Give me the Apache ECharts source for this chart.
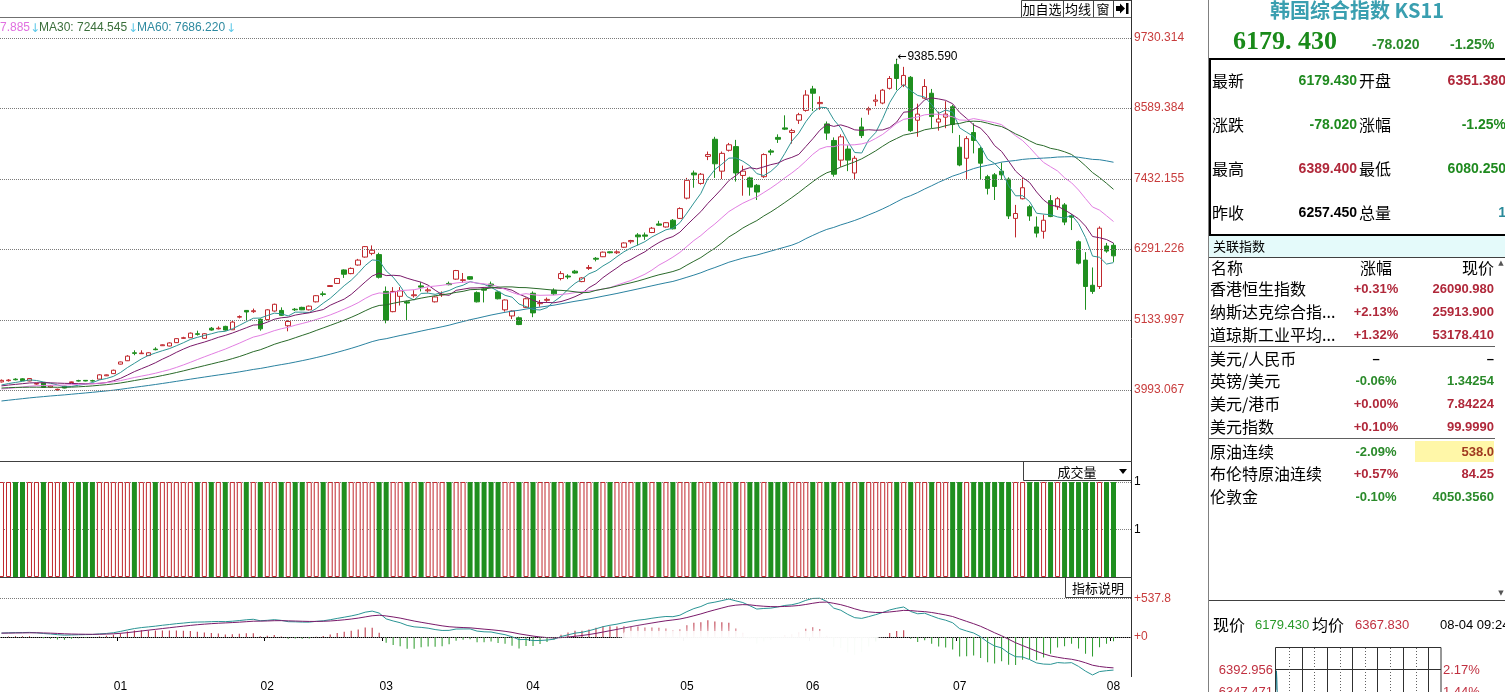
<!DOCTYPE html>
<html><head><meta charset="utf-8">
<script src="https://cdn.jsdelivr.net/npm/echarts@6/dist/echarts.min.js"></script>
<style>html,body{margin:0;padding:0;background:#fff;overflow:hidden}#c{width:1505px;height:692px}</style>
</head><body><div id="c"></div>
<script>
// ---------- DATA ----------
// closes before the first visible candle (only feed the moving averages / MACD)
const historyCloses = [
3380,3400,3420,3410,3440,3450,3430,3470,3490,3480,3510,3530,3520,3550,3570,
3590,3580,3610,3640,3660,3680,3700,3720,3750,3770,3800,3830,3860,3900,3940,
3990,4030,4080,4120,4100,4060,4020,4070,4050,4030,
3980,3940,3900,3920,3960,3950,3990,3970,3980,4010,
4020,4050,4030,4060,4065,4040,4070,4050,4065];
// visible candles: [open, close, low, high]
const candleData = [
[4125,4150,4115,4165],[4145,4155,4130,4170],[4170,4160,4150,4185],[4175,4145,4140,4185],[4140,4180,4135,4185],
[4090,4100,4080,4110],[4110,4035,4030,4120],[4040,4060,4030,4070],[3995,4005,3985,4015],[4055,4025,4020,4060],
[4115,4125,4110,4130],[4145,4140,4130,4160],[4150,4140,4135,4155],[4145,4140,4130,4160],[4170,4240,4165,4250],
[4225,4240,4220,4245],[4260,4315,4255,4325],[4415,4450,4410,4455],[4470,4545,4465,4560],[4600,4590,4560,4640],
[4585,4595,4580,4640],[4555,4600,4545,4610],[4660,4650,4640,4690],[4715,4730,4710,4735],[4710,4760,4705,4770],
[4765,4830,4760,4835],[4835,4845,4830,4860],[4845,4920,4840,4930],[4910,4900,4880,4960],[4835,4910,4830,4920],
[5000,4970,4960,5020],[4990,5000,4980,5030],[5030,4970,4960,5040],[4975,5100,4970,5130],[5180,5190,5160,5210],
[5290,5265,5120,5295],[5270,5285,5250,5320],[5145,4990,4960,5160],[5140,5300,5130,5310],[5280,5390,5270,5400],
[5290,5210,5200,5340],[5040,5110,4950,5130],[5310,5300,5280,5330],[5340,5300,5295,5350],[5300,5360,5290,5370],
[5430,5530,5420,5540],[5560,5550,5520,5600],[5680,5695,5675,5700],[5730,5810,5725,5820],[5950,5880,5820,5960],
[5890,5975,5880,5990],[6030,6110,6020,6130],[6160,6330,6150,6340],[6220,6270,6190,6350],[6200,5830,5810,6230],
[5600,5130,5080,5680],[5270,5600,5260,5670],[5520,5610,5370,5670],[5430,5410,5130,5450],[5530,5545,5500,5620],
[5690,5670,5600,5750],[5610,5625,5580,5660],[5430,5510,5420,5520],[5545,5555,5510,5600],[5730,5710,5700,5760],
[5800,5940,5790,5950],[5780,5790,5740,5900],[5840,5800,5790,5850],[5580,5430,5420,5600],[5640,5620,5420,5650],
[5720,5690,5680,5760],[5590,5480,5470,5600],[5300,5460,5270,5470],[5200,5280,5150,5290],[5170,5060,5050,5190],
[5340,5480,5330,5500],[5570,5250,5180,5600],[5400,5415,5350,5460],[5455,5470,5430,5500],[5620,5560,5540,5650],
[5810,5890,5780,5930],[5850,5835,5800,5880],[5930,5900,5890,5950],[5760,5820,5750,5830],[5975,5990,5950,6030],
[6140,6125,6090,6160],[6165,6240,6160,6250],[6245,6230,6220,6250],[6230,6245,6210,6270],[6320,6390,6310,6400],
[6410,6430,6380,6440],[6520,6490,6350,6550],[6520,6500,6440,6560],[6560,6630,6550,6650],[6700,6680,6670,6750],
[6650,6720,6640,6730],[6760,6620,6610,6780],[6790,6950,6780,6970],[7120,7410,7100,7450],[7530,7500,7290,7570],
[7360,7510,7340,7530],[7800,7830,7740,7880],[8080,7680,7450,8120],[7560,7850,7430,7880],[7900,7990,7880,8020],
[7960,7530,7390,8070],[7490,7560,7160,7650],[7450,7300,7160,7470],[7330,7220,7090,7350],[7470,7830,7450,7850],
[7890,7870,7820,7920],[8110,8080,8020,8160],[8265,8245,8230,8470],[8190,8220,8010,8250],[8390,8480,8330,8510],
[8550,8800,8530,8880],[8900,8830,8540,8950],[8660,8680,8560,8780],[8330,8180,8070,8370],[8060,7510,7470,8110],
[7740,8120,7630,8160],[7920,7740,7560,7980],[7530,7770,7430,7810],[8280,8140,8100,8430],[8560,8580,8480,8610],
[8700,8720,8620,8810],[8670,8880,8650,8900],[8910,9070,8890,9110],[9300,9070,8880,9385.59],[8960,9120,8930,9260],
[9090,8220,8200,9110],[8390,8490,8120,8660],[8750,8940,8740,9060],[8830,8450,8260,8900],[8360,8410,8220,8530],
[8440,8490,8260,8700],[8610,8320,8180,8640],[7950,7660,7640,8150],[7770,8090,7420,8130],[8190,8060,7850,8340],
[7930,7690,7420,7960],[7470,7280,7180,7500],[7500,7310,7090,7530],[7560,7500,7420,7700],[7430,6830,6780,7460],
[6790,6870,6480,7010],[7110,7290,7100,7450],[6980,6830,6750,7010],[6650,6550,6480,6820],[6580,6760,6460,6850],
[7080,6820,6810,7170],[6980,7110,6930,7140],[7010,6730,6680,7040],[6830,6810,6600,6860],[6410,6060,6040,6430],
[6110,5680,5300,6240],[5700,5600,5560,5990],[5680,6630,5640,6660],[6340,6257.45,6230,6390],[6351.38,6179.43,6080.25,6389.4]];
const volumes = [
1,1,1,1,1,1,1,1,1,1,1,1,1,1,1,1,1,1,1,1,
1,1,1,1,1,1,1,1,1,1,1,1,1,1,1,1,1,1,1,1,
1,1,1,1,1,1,1,1,1,1,1,1,1,1,1,1,1,1,1,1,
1,1,1,1,1,1,1,1,1,1,1,1,1,1,1,1,1,1,1,1,
1,1,1,1,1,1,1,1,1,1,1,1,1,1,1,1,1,1,1,1,
1,1,1,1,1,1,1,1,1,1,1,1,1,1,1,1,1,1,1,1,
1,1,1,1,1,1,1,1,1,1,1,1,1,1,1,1,1,1,1,1,
1,1,1,1,1,1,1,1,1,1,1,1,1,1,1,1,1,1,1,1];
const priceTicks = [9730.314, 8589.384, 7432.155, 6291.226, 5133.997, 3993.067];
const macdTicks = [537.8, 0];
const monthLabels = ['01','02','03','04','05','06','07','08'];
const monthStartIdx = [17, 38, 55, 76, 98, 116, 137, 159];
const peakIndex = 128, peakValue = 9385.590;
const maPeriods = [5, 10, 20, 30, 60];
const intraday = [6351.38,6389.40,6372,6340,6310,6290,6320,6300,6270,6250,6235,6260,6240,6215,6200,6185,6170,6150,6120,6080.25,6110,6140,6160,6179.43];

// ---------- derived ----------
const N = candleData.length, SLOTS = 162;
const cats = Array.from({length: SLOTS}, (_, i) => String(i));
const H = historyCloses.length;
const allCloses = historyCloses.concat(candleData.map(c => c[1]));
function ma(n) {
  return candleData.map((_, i) => {
    let s = 0; for (let k = i + H - n + 1; k <= i + H; k++) s += allCloses[k];
    return +(s / n).toFixed(2);
  });
}
const dif = [], dea = [], hist = [];
(function () {
  let e12 = allCloses[0], e26 = allCloses[0], d9 = 0;
  allCloses.forEach((c, k) => {
    e12 += (c - e12) * 2 / 13; e26 += (c - e26) * 2 / 27;
    const d = e12 - e26; d9 += (d - d9) * 2 / 10;
    if (k >= H) { dif.push(+d.toFixed(2)); dea.push(+d9.toFixed(2)); hist.push(+(2 * (d - d9)).toFixed(2)); }
  });
})();
const RED = '#c0282d', GREEN = '#1f8f1f';
const volData = volumes.map((v, i) => {
  const up = candleData[i][1] >= candleData[i][0];
  return { value: v, itemStyle: up ? { color: '#fff', borderColor: RED, borderWidth: 1 } : { color: GREEN, borderColor: GREEN, borderWidth: 0 } };
});
const histData = hist.map(v => ({ value: v, itemStyle: { color: v >= 0 ? '#b8283a' : '#2a9a2a' } }));
const maColors = ['#2f9494', '#7a1a6a', '#e27ee2', '#2a6a2a', '#2a82a0'];

// ---------- chrome helpers ----------
const SANS = '"Liberation Sans", Arial, sans-serif';
const CJK = '"Noto Sans CJK SC", sans-serif';
function T(text, x, y, fill, font, align, z) {
  align = align || 'left';
  return { type: 'text', z: z || 100, silent: true, style: { text, x, y, fill, font, align, textAlign: align, verticalAlign: 'middle', textVerticalAlign: 'middle' } };
}
function L(x1, y1, x2, y2, stroke, lw, dash) {
  return { type: 'line', z: 100, silent: true, shape: { x1, y1, x2, y2 }, style: { stroke, lineWidth: lw || 1, lineDash: dash || null } };
}
function R(x, y, w, h, fill, stroke, lw, z) {
  return { type: 'rect', z: z || 99, silent: true, shape: { x, y, width: w, height: h }, style: { fill: fill || 'none', stroke: stroke || null, lineWidth: lw || 1 } };
}
const g = [];
// chart frame
g.push(L(0, 17.5, 1132, 17.5, '#707070'));
g.push(R(1021.5, 0.5, 110, 17, '#fff', '#404040'));
[1063.5, 1093.5, 1113.5].forEach(x => g.push(L(x, 0, x, 17, '#404040')));
g.push(T('加自选', 1042, 9, '#000', '13px ' + CJK, 'center'));
g.push(T('均线', 1078, 9, '#000', '13px ' + CJK, 'center'));
g.push(T('窗', 1103, 9, '#000', '13px ' + CJK, 'center'));
g.push({ type: 'polygon', z: 101, silent: true, shape: { points: [[1116, 6], [1120, 6], [1120, 3.5], [1125, 8.5], [1120, 13.5], [1120, 11], [1116, 11]] }, style: { fill: '#000' } });
g.push(R(1126, 3, 2.5, 11, '#000', null, 1, 101));
g.push(L(1131.5, 0, 1131.5, 677, '#303030'));
g.push(L(0, 461.5, 1132, 461.5, '#404040'));
g.push(R(1023.5, 461.5, 108, 19, '#fff', '#404040'));
g.push(T('成交量', 1077, 472, '#000', '13px ' + CJK, 'center'));
g.push({ type: 'polygon', z: 101, silent: true, shape: { points: [[1119, 469], [1127, 469], [1123, 474]] }, style: { fill: '#000' } });
g.push(L(0, 577.5, 1132, 577.5, '#404040'));
g.push(R(1065.5, 577.5, 66, 20, '#fff', '#404040'));
g.push(T('指标说明', 1098, 588, '#000', '13px ' + CJK, 'center'));
// faded watermark blur over MACD
g.push({ type: 'rect', z: 98, silent: true, shape: { x: 622, y: 631, width: 256, height: 37, r: 6 }, style: { fill: 'rgba(255,255,255,0.82)', shadowBlur: 10, shadowColor: 'rgba(255,255,255,1)' } });
// MA legend (cut at left edge)
g.push(T('7.885', 0, 28, '#e070e0', '12px ' + SANS));
g.push(T('↓', 30, 29, '#5cc8e8', '12px "DejaVu Sans"'));
g.push(T('MA30: 7244.545', 39, 28, '#3a6e3a', '12px ' + SANS));
g.push(T('↓', 128, 29, '#5cc8e8', '12px "DejaVu Sans"'));
g.push(T('MA60: 7686.220', 137, 28, '#2e8aa0', '12px ' + SANS));
g.push(T('↓', 226, 29, '#5cc8e8', '12px "DejaVu Sans"'));
// right info panel
g.push(L(1208.5, 0, 1208.5, 692, '#808080'));
g.push(T('韩国综合指数 KS11', 1357, 10, '#3a9fb0', 'bold 20px ' + CJK, 'center'));
g.push(T('6179. 430', 1233, 42, '#1a8a1a', 'bold 26px "Liberation Serif", serif'));
g.push(T('-78.020', 1372, 45, '#2a8a2a', 'bold 14px ' + SANS));
g.push(T('-1.25%', 1450, 45, '#2a8a2a', 'bold 14px ' + SANS));
g.push(R(1210, 59, 300, 176, 'none', '#000', 2));
const infoRows = [
  ['最新', '6179.430', '#1f8a1f', '开盘', '6351.380', '#b0283a', 81],
  ['涨跌', '-78.020', '#1f8a1f', '涨幅', '-1.25%', '#1f8a1f', 125],
  ['最高', '6389.400', '#b0283a', '最低', '6080.250', '#1f8a1f', 169],
  ['昨收', '6257.450', '#000', '总量', '1', '#2a8a9a', 213]];
infoRows.forEach(r => {
  g.push(T(r[0], 1212, r[6], '#000', '16px ' + CJK));
  g.push(T(r[1], 1357, r[6], r[2], 'bold 14px ' + SANS, 'right'));
  g.push(T(r[3], 1359, r[6], '#000', '16px ' + CJK));
  g.push(T(r[4], 1506, r[6], r[5], 'bold 14px ' + SANS, 'right'));
});
g.push(R(1209, 236, 296, 21, '#e4fafa', null, 1, 97));
g.push(L(1209, 257.5, 1505, 257.5, '#404040'));
g.push(T('关联指数', 1213, 246, '#000', '13px ' + CJK));
g.push(T('名称', 1211, 268, '#000', '16px ' + CJK));
g.push(T('涨幅', 1376, 268, '#000', '16px ' + CJK, 'center'));
g.push(T('现价', 1494, 268, '#000', '16px ' + CJK, 'right'));
g.push(T('▲', 1501, 263, '#555', '7px "DejaVu Sans"', 'center'));
g.push(T('▼', 1501, 593, '#555', '7px "DejaVu Sans"', 'center'));
g.push(R(1415, 441, 79, 21, '#fff7a8', null, 1, 97));
const RR = '#b0283a', GG = '#2a8a2a';
const relRows = [
  ['香港恒生指数', '+0.31%', RR, '26090.980', RR, 289],
  ['纳斯达克综合指...', '+2.13%', RR, '25913.900', RR, 312],
  ['道琼斯工业平均...', '+1.32%', RR, '53178.410', RR, 335],
  ['美元/人民币', '–', '#000', '–', '#000', 359],
  ['英镑/美元', '-0.06%', GG, '1.34254', GG, 381],
  ['美元/港币', '+0.00%', RR, '7.84224', RR, 404],
  ['美元指数', '+0.10%', RR, '99.9990', RR, 427],
  ['原油连续', '-2.09%', GG, '538.0', '#a03a20', 452],
  ['布伦特原油连续', '+0.57%', RR, '84.25', RR, 474],
  ['伦敦金', '-0.10%', GG, '4050.3560', GG, 497]];
relRows.forEach(r => {
  g.push(T(r[0], 1210, r[5], '#000', '16px ' + CJK));
  g.push(T(r[1], 1376, r[5], r[2], 'bold 13px ' + SANS, 'center'));
  g.push(T(r[3], 1494, r[5], r[4], 'bold 13px ' + SANS, 'right'));
});
g.push(L(1209, 346.5, 1495, 346.5, '#606060'));
g.push(L(1209, 438.5, 1495, 438.5, '#606060'));
g.push(L(1209, 600.5, 1505, 600.5, '#404040'));
g.push(T('现价', 1213, 625, '#000', '16px ' + CJK));
g.push(T('6179.430', 1255, 625, '#2a9a2a', '13px ' + SANS));
g.push(T('均价', 1312, 625, '#000', '16px ' + CJK));
g.push(T('6367.830', 1355, 625, '#c03040', '13px ' + SANS));
g.push(T('08-04 09:24', 1440, 625, '#000', '13px ' + SANS));
// mini intraday frame
g.push(R(1275.5, 647.5, 165.5, 60, 'none', '#303030'));
g.push(L(1275.5, 669.5, 1441, 669.5, '#303030'));
[1302.5, 1327.5, 1352.5, 1377.5, 1403.5, 1428.5].forEach(x => g.push(L(x, 647, x, 692, '#303030')));
[1289.5, 1314.5, 1340.5, 1365.5, 1390.5, 1416.5].forEach(x => g.push(L(x, 648, x, 692, '#606060', 1, [1, 2])));
g.push(T('6392.956', 1273, 670, '#c03040', '13px ' + SANS, 'right'));
g.push(T('6347.471', 1273, 692, '#c03040', '13px ' + SANS, 'right'));
g.push(T('2.17%', 1443, 670, '#c03040', '13px ' + SANS));
g.push(T('1.44%', 1443, 692, '#c03040', '13px ' + SANS));

// ---------- chart ----------
const chart = echarts.init(document.getElementById('c'), null, { renderer: 'canvas', width: 1505, height: 692 });
const gridBase = { containLabel: false, outerBoundsMode: 'none' };
const option = {
  animation: false,
  backgroundColor: '#fff',
  grid: [
    Object.assign({ left: -2, right: 374, top: 17, height: 444 }, gridBase),
    Object.assign({ left: -2, right: 374, top: 482, height: 95 }, gridBase),
    Object.assign({ left: -2, right: 374, top: 577, height: 99 }, gridBase),
    Object.assign({ left: 1276, width: 165, top: 669, height: 136 }, gridBase)
  ],
  xAxis: [
    { type: 'category', gridIndex: 0, data: cats, show: false },
    { type: 'category', gridIndex: 1, data: cats, show: false },
    { type: 'category', gridIndex: 2, data: cats,
      axisLine: { show: true, lineStyle: { color: '#000', width: 1 } },
      axisTick: { show: true, length: 4, lineStyle: { color: '#000' }, interval: (i) => monthStartIdx.indexOf(i) >= 0 },
      axisLabel: { show: true, margin: 5, color: '#000', fontSize: 12, fontFamily: 'Liberation Sans',
        interval: (i) => monthStartIdx.indexOf(i) >= 0,
        formatter: (v, i) => { const k = monthStartIdx.indexOf(+v); return k >= 0 ? monthLabels[k] : ''; } },
      splitLine: { show: false } },
    { type: 'category', gridIndex: 3, data: Array.from({ length: 390 }, (_, i) => String(i)), show: false, boundaryGap: false }
  ],
  yAxis: [
    { type: 'value', gridIndex: 0, min: 2835.8, max: 10072.6, show: false },
    { type: 'value', gridIndex: 1, min: 0, max: 1, interval: 0.5, position: 'right',
      axisLine: { show: false }, axisTick: { show: false },
      axisLabel: { show: true, margin: 3, color: '#000', fontSize: 12, fontFamily: 'Liberation Sans', formatter: v => v > 0 ? String(Math.round(v)) : '' },
      splitLine: { show: true, lineStyle: { type: 'dotted', color: '#808080' } } },
    { type: 'value', gridIndex: 2, min: -542, max: 834, show: false },
    { type: 'value', gridIndex: 3, min: 6121.944, max: 6392.956, show: false }
  ],
  graphic: g,
  series: [
    { type: 'candlestick', xAxisIndex: 0, yAxisIndex: 0, data: candleData, barWidth: 5, z: 2,
      itemStyle: { color: '#ffffff', color0: GREEN, borderColor: RED, borderColor0: GREEN, borderWidth: 1 },
      markLine: { silent: true, symbol: 'none', animation: false, precision: 3,
        lineStyle: { type: 'dotted', color: '#7a7a7a', width: 1 },
        label: { position: 'end', distance: 3, color: '#c83c3c', fontSize: 12, fontFamily: 'Liberation Sans', formatter: p => Number(p.value).toFixed(3) },
        emphasis: { disabled: true },
        data: priceTicks.map(v => ({ yAxis: v })) },
      markPoint: { silent: true, animation: false, symbol: 'rect', symbolSize: [1, 1], itemStyle: { color: '#000' },
        data: [{ coord: [peakIndex, peakValue], value: peakValue }],
        label: { show: true, position: 'right', distance: 0, offset: [0, -2],
          formatter: p => '{a|←}{b|' + peakValue.toFixed(3) + '}',
          rich: { a: { fontFamily: 'DejaVu Sans', fontSize: 11, color: '#000' }, b: { fontFamily: 'Liberation Sans', fontSize: 12, color: '#000', padding: [0, 0, 0, 1] } } } }
    },
    ...maPeriods.map((n, k) => ({ type: 'line', xAxisIndex: 0, yAxisIndex: 0, data: ma(n), showSymbol: false, symbol: 'none', z: 3,
      lineStyle: { width: 1, color: maColors[k] }, emphasis: { disabled: true } })),
    { type: 'bar', xAxisIndex: 1, yAxisIndex: 1, data: volData, barWidth: 5 },
    { type: 'bar', xAxisIndex: 2, yAxisIndex: 2, data: histData, barWidth: 1,
      markLine: { silent: true, symbol: 'none', animation: false,
        lineStyle: { type: 'dotted', color: '#7a7a7a', width: 1 },
        label: { position: 'end', distance: 3, color: '#c83c3c', fontSize: 12, fontFamily: 'Liberation Sans', formatter: p => '+' + p.value },
        emphasis: { disabled: true },
        data: macdTicks.map(v => ({ yAxis: v })) } },
    { type: 'line', xAxisIndex: 2, yAxisIndex: 2, data: dif, showSymbol: false, symbol: 'none', lineStyle: { width: 1, color: '#2a9494' }, z: 4 },
    { type: 'line', xAxisIndex: 2, yAxisIndex: 2, data: dea, showSymbol: false, symbol: 'none', lineStyle: { width: 1, color: '#7a1a6a' }, z: 4 },
    { type: 'line', xAxisIndex: 3, yAxisIndex: 3, data: intraday, showSymbol: false, symbol: 'none', lineStyle: { width: 1, color: '#1a7a8a' } }
  ]
};
chart.setOption(option);
</script>
</body></html>
